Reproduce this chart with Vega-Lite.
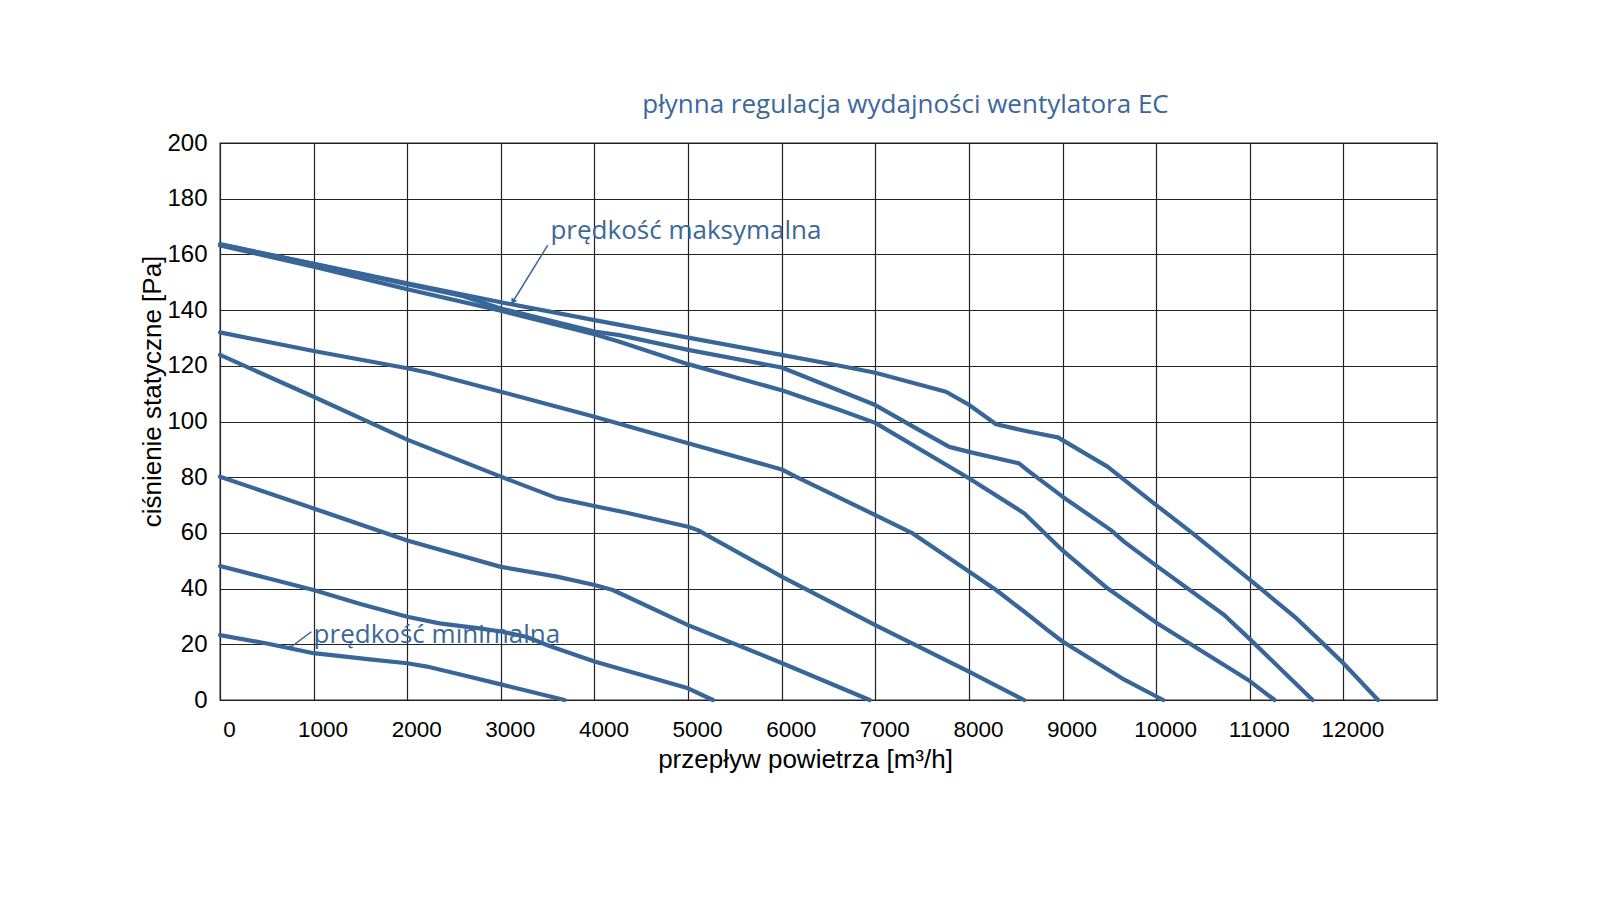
{
  "$schema": "https://vega.github.io/schema/vega-lite/v6.json",
  "width": 1217,
  "height": 557,
  "autosize": {"type": "none"},
  "padding": {"left": 220, "top": 143, "right": 163, "bottom": 200},
  "background": "white",
  "config": {
    "view": {"stroke": "#222222", "strokeWidth": 1.3},
    "axis": {"gridColor": "#222222", "gridWidth": 1.2, "gridOpacity": 1, "domain": false, "ticks": false, "labelFont": "Liberation Sans", "labelColor": "#000000", "titleFont": "Liberation Sans", "titleFontSize": 26, "titleFontWeight": "normal", "titleColor": "#000000"}
  },
  "title": {"text": "płynna regulacja wydajności wentylatora EC", "anchor": "middle", "dx": 77, "dy": 36, "offset": 28, "font": "Open Sans", "fontSize": 26, "fontWeight": "normal", "color": "#3b6899", "baseline": "alphabetic"},
  "datasets": {
    "curves": [
      {"c": "c1", "q": 0, "p": 23.3}, {"c": "c1", "q": 500, "p": 20.3}, {"c": "c1", "q": 1000, "p": 16.8}, {"c": "c1", "q": 1600, "p": 14.6}, {"c": "c1", "q": 2000, "p": 13.2}, {"c": "c1", "q": 2210, "p": 12.0}, {"c": "c1", "q": 2600, "p": 8.9}, {"c": "c1", "q": 3000, "p": 5.6}, {"c": "c1", "q": 3680, "p": 0},
      {"c": "c2", "q": 0, "p": 48.1}, {"c": "c2", "q": 500, "p": 43.8}, {"c": "c2", "q": 1000, "p": 39.5}, {"c": "c2", "q": 1500, "p": 34.5}, {"c": "c2", "q": 2000, "p": 29.9}, {"c": "c2", "q": 2345, "p": 27.5}, {"c": "c2", "q": 2772, "p": 25.7}, {"c": "c2", "q": 3000, "p": 24.6}, {"c": "c2", "q": 3270, "p": 22.7}, {"c": "c2", "q": 3520, "p": 19.4}, {"c": "c2", "q": 4000, "p": 13.8}, {"c": "c2", "q": 5000, "p": 4.2}, {"c": "c2", "q": 5265, "p": 0},
      {"c": "c3", "q": 0, "p": 80.2}, {"c": "c3", "q": 1000, "p": 68.8}, {"c": "c3", "q": 2000, "p": 57.3}, {"c": "c3", "q": 3000, "p": 47.8}, {"c": "c3", "q": 3600, "p": 44.3}, {"c": "c3", "q": 4000, "p": 41.3}, {"c": "c3", "q": 4196, "p": 39.5}, {"c": "c3", "q": 5000, "p": 26.9}, {"c": "c3", "q": 6000, "p": 13.3}, {"c": "c3", "q": 6940, "p": 0},
      {"c": "c4", "q": 0, "p": 123.9}, {"c": "c4", "q": 1000, "p": 108.9}, {"c": "c4", "q": 2000, "p": 93.5}, {"c": "c4", "q": 3000, "p": 80.2}, {"c": "c4", "q": 3600, "p": 72.5}, {"c": "c4", "q": 4035, "p": 69.4}, {"c": "c4", "q": 4320, "p": 67.4}, {"c": "c4", "q": 5000, "p": 62.2}, {"c": "c4", "q": 5104, "p": 61.0}, {"c": "c4", "q": 6000, "p": 44.3}, {"c": "c4", "q": 7000, "p": 26.9}, {"c": "c4", "q": 8000, "p": 10.2}, {"c": "c4", "q": 8590, "p": 0},
      {"c": "c5", "q": 0, "p": 132}, {"c": "c5", "q": 1000, "p": 125.3}, {"c": "c5", "q": 2000, "p": 119.1}, {"c": "c5", "q": 2250, "p": 117.3}, {"c": "c5", "q": 3000, "p": 110.7}, {"c": "c5", "q": 4000, "p": 101.7}, {"c": "c5", "q": 5000, "p": 92.2}, {"c": "c5", "q": 6000, "p": 82.8}, {"c": "c5", "q": 6150, "p": 80.2}, {"c": "c5", "q": 7000, "p": 66.4}, {"c": "c5", "q": 7400, "p": 59.8}, {"c": "c5", "q": 8000, "p": 46.1}, {"c": "c5", "q": 8290, "p": 39.5}, {"c": "c5", "q": 8600, "p": 31.5}, {"c": "c5", "q": 8840, "p": 25.1}, {"c": "c5", "q": 9000, "p": 21}, {"c": "c5", "q": 9660, "p": 7.3}, {"c": "c5", "q": 10075, "p": 0},
      {"c": "c6", "q": 0, "p": 163.2}, {"c": "c6", "q": 1000, "p": 155.6}, {"c": "c6", "q": 2000, "p": 147.5}, {"c": "c6", "q": 3000, "p": 139.8}, {"c": "c6", "q": 4000, "p": 131.3}, {"c": "c6", "q": 4267, "p": 128.6}, {"c": "c6", "q": 5000, "p": 120.6}, {"c": "c6", "q": 6000, "p": 111.2}, {"c": "c6", "q": 6620, "p": 104.1}, {"c": "c6", "q": 7000, "p": 99.5}, {"c": "c6", "q": 8000, "p": 79.6}, {"c": "c6", "q": 8593, "p": 67}, {"c": "c6", "q": 9000, "p": 53.7}, {"c": "c6", "q": 9480, "p": 40.1}, {"c": "c6", "q": 10015, "p": 27.5}, {"c": "c6", "q": 11000, "p": 6.8}, {"c": "c6", "q": 11265, "p": 0},
      {"c": "c7", "q": 0, "p": 163.5}, {"c": "c7", "q": 1000, "p": 156.6}, {"c": "c7", "q": 2000, "p": 149.3}, {"c": "c7", "q": 2600, "p": 145}, {"c": "c7", "q": 3000, "p": 140.6}, {"c": "c7", "q": 4000, "p": 132.3}, {"c": "c7", "q": 4267, "p": 131}, {"c": "c7", "q": 5000, "p": 125.7}, {"c": "c7", "q": 6000, "p": 119.4}, {"c": "c7", "q": 6154, "p": 117.3}, {"c": "c7", "q": 7000, "p": 105.9}, {"c": "c7", "q": 7470, "p": 96.9}, {"c": "c7", "q": 7790, "p": 90.9}, {"c": "c7", "q": 8000, "p": 89.1}, {"c": "c7", "q": 8534, "p": 85}, {"c": "c7", "q": 8645, "p": 82}, {"c": "c7", "q": 9000, "p": 73}, {"c": "c7", "q": 9517, "p": 61}, {"c": "c7", "q": 9660, "p": 56.8}, {"c": "c7", "q": 10015, "p": 47.9}, {"c": "c7", "q": 10727, "p": 30.5}, {"c": "c7", "q": 11012, "p": 21.5}, {"c": "c7", "q": 11671, "p": 0},
      {"c": "c8", "q": 0, "p": 163.7}, {"c": "c8", "q": 1000, "p": 156.6}, {"c": "c8", "q": 2000, "p": 149.6}, {"c": "c8", "q": 3000, "p": 142.8}, {"c": "c8", "q": 4000, "p": 136.4}, {"c": "c8", "q": 5000, "p": 130.1}, {"c": "c8", "q": 6000, "p": 123.9}, {"c": "c8", "q": 6580, "p": 120.3}, {"c": "c8", "q": 7000, "p": 117.5}, {"c": "c8", "q": 7755, "p": 110.7}, {"c": "c8", "q": 8000, "p": 106}, {"c": "c8", "q": 8290, "p": 99}, {"c": "c8", "q": 8645, "p": 96.3}, {"c": "c8", "q": 8950, "p": 94.3}, {"c": "c8", "q": 9480, "p": 83.8}, {"c": "c8", "q": 10000, "p": 70}, {"c": "c8", "q": 10390, "p": 59.8}, {"c": "c8", "q": 11000, "p": 43.2}, {"c": "c8", "q": 11500, "p": 29.3}, {"c": "c8", "q": 11800, "p": 19.7}, {"c": "c8", "q": 12000, "p": 13.2}, {"c": "c8", "q": 12370, "p": 0}
    ],
    "arrows": [
      {"name": "max", "q": 3501, "p": 163.3, "q2": 3128, "p2": 143.0},
      {"name": "min", "q": 975, "p": 24.5, "q2": 743, "p2": 18.6}
    ],
    "labels": [
      {"name": "max", "q": 3530, "p": 168.4, "label": "prędkość maksymalna"},
      {"name": "min", "q": 1000, "p": 23.3, "label": "prędkość minimalna"}
    ]
  },
  "encoding": {
    "x": {"field": "q", "type": "quantitative", "scale": {"domain": [0, 13000], "nice": false, "zero": false},
      "axis": {"title": "przepływ powietrza [m³/h]", "values": [0, 1000, 2000, 3000, 4000, 5000, 6000, 7000, 8000, 9000, 10000, 11000, 12000], "grid": true, "format": "d", "labelFontSize": 22.5, "labelPadding": 18, "labelOffset": 9, "labelFlush": false, "labelOverlap": false, "titleX": 585, "titleY": 67, "titleAlign": "center", "titleBaseline": "alphabetic"}},
    "y": {"field": "p", "type": "quantitative", "scale": {"domain": [0, 200], "nice": false},
      "axis": {"title": "ciśnienie statyczne [Pa]", "values": [0, 20, 40, 60, 80, 100, 120, 140, 160, 180, 200], "grid": true, "format": "d", "labelFontSize": 24, "labelPadding": 13, "labelFlush": false, "labelOverlap": false, "titleX": -60, "titleY": 248, "titleAngle": -90, "titleAlign": "center", "titleBaseline": "alphabetic"}}
  },
  "layer": [
    {"data": {"name": "curves"}, "mark": {"type": "line", "color": "#386698", "strokeWidth": 4.2, "strokeCap": "round", "strokeJoin": "round"},
      "encoding": {"detail": {"field": "c", "type": "nominal"}, "order": {"field": "q", "type": "quantitative"}}},
    {"data": {"name": "arrows"}, "mark": {"type": "rule", "color": "#3b6899", "strokeWidth": 1.5},
      "encoding": {"x2": {"field": "q2"}, "y2": {"field": "p2"}}},
    {"data": {"name": "arrows"}, "transform": [{"filter": "datum.name == 'max'"}],
      "mark": {"type": "point", "shape": "triangle-up", "filled": true, "color": "#3b6899", "size": 45, "angle": 212, "opacity": 1},
      "encoding": {"x": {"field": "q2", "type": "quantitative"}, "y": {"field": "p2", "type": "quantitative"}}},
    {"data": {"name": "arrows"}, "transform": [{"filter": "datum.name == 'min'"}],
      "mark": {"type": "point", "shape": "triangle-up", "filled": true, "color": "#3b6899", "size": 30, "angle": 233, "opacity": 1},
      "encoding": {"x": {"field": "q2", "type": "quantitative"}, "y": {"field": "p2", "type": "quantitative"}}},
    {"data": {"name": "labels"}, "mark": {"type": "text", "align": "left", "baseline": "middle", "font": "Open Sans", "fontSize": 26, "color": "#3b6899"},
      "encoding": {"text": {"field": "label", "type": "nominal"}}}
  ]
}
